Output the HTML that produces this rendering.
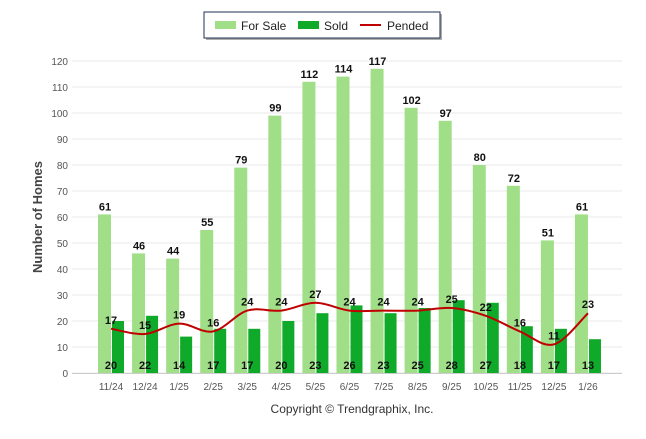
<!DOCTYPE html>
<html><head><meta charset="utf-8"><style>
body{margin:0;background:#fff;font-family:"Liberation Sans",Arial,sans-serif}
svg text{font-family:"Liberation Sans",Arial,sans-serif}
</style></head><body>
<svg id="c" width="646" height="434" xmlns="http://www.w3.org/2000/svg">
<g>
<rect x="206" y="14" width="236" height="26" fill="#333" opacity="0.4"/>
<rect x="204" y="12" width="236" height="26" fill="#fff" stroke="#1f2f50" stroke-width="1"/>
<rect x="215" y="21" width="21" height="8" fill="#a0df88"/>
<text x="241" y="30" font-size="12" fill="#222">For Sale</text>
<rect x="298" y="21" width="21" height="8" fill="#0faa29"/>
<text x="324" y="30" font-size="12" fill="#222">Sold</text>
<line x1="360" y1="25" x2="381" y2="25" stroke="#c00000" stroke-width="2"/>
<text x="387" y="30" font-size="12" fill="#222">Pended</text>
</g>
<text transform="translate(42,217) rotate(-90)" text-anchor="middle" font-size="13" font-weight="bold" fill="#444">Number of Homes</text>
<text x="352" y="413" text-anchor="middle" font-size="12" fill="#333">Copyright © Trendgraphix, Inc.</text>
<g id="grid"></g><g id="bars"></g><g id="line"></g><g id="labels"></g>
</svg>
<script>
const categories=["11/24","12/24","1/25","2/25","3/25","4/25","5/25","6/25","7/25","8/25","9/25","10/25","11/25","12/25","1/26"];
const forSale=[61,46,44,55,79,99,112,114,117,102,97,80,72,51,61];
const sold=[20,22,14,17,17,20,23,26,23,25,28,27,18,17,13];
const pended=[17,15,19,16,24,24,27,24,24,24,25,22,16,11,23];
const yTicks=[0,10,20,30,40,50,60,70,80,90,100,110,120];
const NS="http://www.w3.org/2000/svg";
const y=v=>373-v*2.6;
const x=i=>111+i*34.07;
function mk(t,a,p,txt){const e=document.createElementNS(NS,t);for(const k in a)e.setAttribute(k,a[k]);if(txt!==undefined)e.textContent=txt;document.getElementById(p).appendChild(e);return e;}
yTicks.forEach(v=>{
 const l=mk('line',{x1:72,x2:622,y1:y(v),y2:y(v),stroke:'#e8e8e8','stroke-width':1},'grid');
 
 
 const t=mk('text',{x:68,y:y(v)+4,'text-anchor':'end','font-size':10,fill:'#555'},'grid',v);
 
 
});
const ax=mk('line',{x1:72,x2:622,y1:373.5,y2:373.5,stroke:'#ccc'},'grid');


categories.forEach((c,i)=>{
 const cx=x(i);
 const t=mk('text',{x:cx,y:390,'text-anchor':'middle','font-size':10,fill:'#555'},'labels',c);
 
 
 const b1=mk('rect',{x:cx-13,y:y(forSale[i]),width:13,height:forSale[i]*2.6,fill:'#a0df88'},'bars');
 
 
 const b2=mk('rect',{x:cx+1,y:y(sold[i]),width:12,height:sold[i]*2.6,fill:'#0faa29'},'bars');
 
 
 const l1=mk('text',{x:cx-6,y:y(forSale[i])-4,'text-anchor':'middle','font-size':11,'font-weight':'bold',fill:'#111'},'labels',forSale[i]);
 
 
 const l2=mk('text',{x:cx,y:369,'text-anchor':'middle','font-size':11,'font-weight':'bold',fill:'#111'},'labels',sold[i]);
 
 
 const l3=mk('text',{x:cx,y:y(pended[i])-5,'text-anchor':'middle','font-size':11,'font-weight':'bold',fill:'#111'},'labels',pended[i]);
 
 
});
let pts=pended.map((v,i)=>[x(i),y(v)]);
let d='M'+pts[0][0]+','+pts[0][1];
for(let i=0;i<pts.length-1;i++){
 const p0=pts[Math.max(0,i-1)],p1=pts[i],p2=pts[i+1],p3=pts[Math.min(pts.length-1,i+2)];
 const c1=[p1[0]+(p2[0]-p0[0])/6,p1[1]+(p2[1]-p0[1])/6],c2=[p2[0]-(p3[0]-p1[0])/6,p2[1]-(p3[1]-p1[1])/6];
 d+=` C${c1[0]},${c1[1]} ${c2[0]},${c2[1]} ${p2[0]},${p2[1]}`;
}
const pl=mk('path',{d:d,fill:'none',stroke:'#c00000','stroke-width':2},'line');


</script>
</body></html>
